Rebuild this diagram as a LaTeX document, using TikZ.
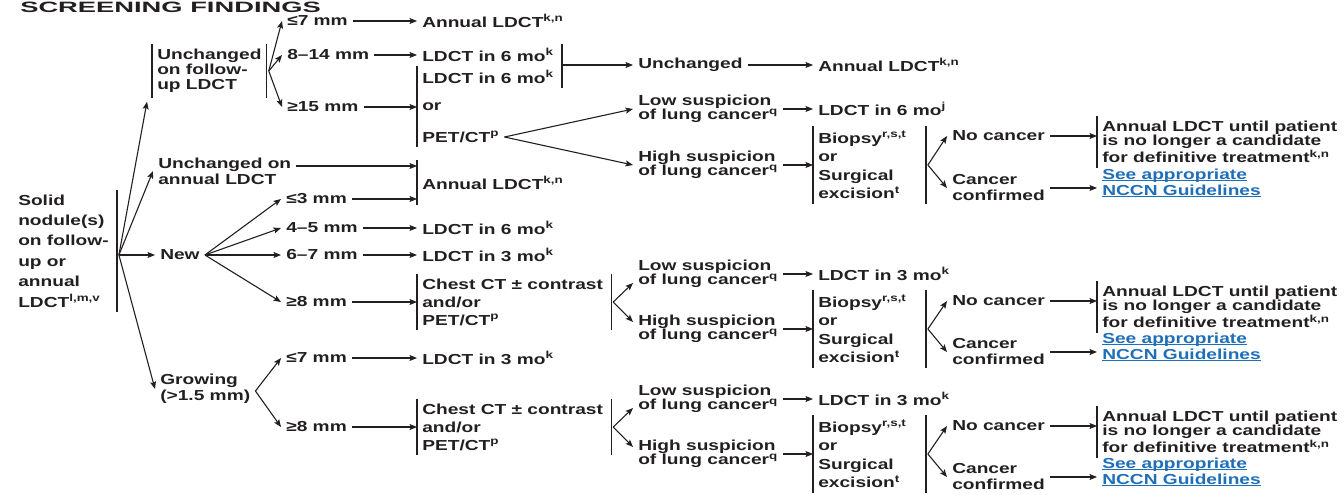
\documentclass[tikz,border=0pt]{standalone}
\usepackage{fontspec}
\setmainfont{Liberation Sans}
\usepackage{tikz}
\usetikzlibrary{positioning,arrows.meta,calc}
\definecolor{ink}     {HTML}{231F20}
\definecolor{nccnblue}{HTML}{1F6FB8}
\newcommand\ldfont[1]{\bfseries\fontsize{14.5}{#1}\selectfont}
\newcommand\fn[1]{\textsuperscript{#1}}
\newcommand\ulink[1]{\underline{\smash{#1}}}
\tikzset{
  >={Stealth[length=7.5pt,width=6pt,inset=1.5pt]},
  % --- nodes
  txt/.style  = {anchor=west, align=left, inner sep=0pt, outer xsep=4pt, outer ysep=5pt,
                 xscale=1.32, text=ink, font=\ldfont{15}},
  ttl/.style  = {txt, xscale=1.38, font=\bfseries\fontsize{15}{15}\selectfont},
  lnk/.style  = {txt, text=nccnblue, font=\ldfont{16}},
  % --- edges
  e/.style    = {->, line width=1.1pt, draw=ink},
  vbar/.style = {line width=1.4pt, draw=ink},
}
\begin{document}
\begin{tikzpicture}[x=1pt,y=-1pt,
  lh/.style={font=\ldfont{#1}}]
\useasboundingbox (0,0) rectangle (1344,495);
\node[ttl] (title) at (13,7) {SCREENING FINDINGS};
\node[txt,lh=20.4] (sn) at (13,251) {Solid\\nodule(s)\\on follow-\\up or\\annual\\LDCT\fn{l,m,v}};
% unchanged on follow-up
\node[txt] (uf) at (152,71) {Unchanged\\on follow-\\up LDCT};
\node[txt] (m7a) at (282,21) {≤7 mm};
\node[txt] (m14a) at (282,55) {8--14 mm};
\node[txt] (m15a) at (282,107) {≥15 mm};
\node[txt] (ann1) at (417,21) {Annual LDCT\fn{k,n}};
\node[txt] (ld6a) at (417,55) {LDCT in 6 mo\fn{k}};
\node[txt] (ld6b) at (417,77) {LDCT in 6 mo\fn{k}};
\node[txt] (ora) at (417,107) {or};
\node[txt] (peta) at (417,137) {PET/CT\fn{p}};
\node[txt] (unc) at (633,65) {Unchanged};
\node[txt] (ann2) at (813,65) {Annual LDCT\fn{k,n}};
\node[txt,lh=14] (lowa) at (633,109) {Low suspicion\\of lung cancer\fn{q}};
\node[txt,lh=14] (higha) at (633,165) {High suspicion\\of lung cancer\fn{q}};
\node[txt] (ld6j) at (813,109) {LDCT in 6 mo\fn{j}};
\node[txt,lh=18.5] (bxa) at (813,165) {Biopsy\fn{r,s,t}\\or\\Surgical\\excision\fn{t}};
\node[txt] (noa) at (947,136) {No cancer};
\node[txt,lh=16] (cana) at (947,188) {Cancer\\confirmed};
\node[txt,lh=14] (anua) at (1097,142) {Annual LDCT until patient\\is no longer a candidate\\for definitive treatment\fn{k,n}};
\node[lnk] (seea) at (1097,188) {\ulink{See appropriate}\\\ulink{NCCN Guidelines}};
% unchanged on annual / new
\node[txt,lh=16] (ua) at (153,171) {Unchanged on\\annual LDCT};
\node[txt] (new) at (155,255) {New};
\node[txt] (m3) at (281,199) {≤3 mm};
\node[txt] (m45) at (281,228) {4--5 mm};
\node[txt] (m67) at (281,255) {6--7 mm};
\node[txt] (m8b) at (281,302) {≥8 mm};
\node[txt] (ann3) at (417,183) {Annual LDCT\fn{k,n}};
\node[txt] (ld6c) at (417,228) {LDCT in 6 mo\fn{k}};
\node[txt] (ld3c) at (417,255) {LDCT in 3 mo\fn{k}};
\node[txt,lh=18] (ctb) at (417,302) {Chest CT ± contrast\\and/or\\PET/CT\fn{p}};
\node[txt,lh=14] (lowb) at (633,274) {Low suspicion\\of lung cancer\fn{q}};
\node[txt,lh=14] (highb) at (633,329) {High suspicion\\of lung cancer\fn{q}};
\node[txt] (ld3d) at (813,274) {LDCT in 3 mo\fn{k}};
\node[txt,lh=18.5] (bxb) at (813,329) {Biopsy\fn{r,s,t}\\or\\Surgical\\excision\fn{t}};
\node[txt] (nob) at (947,301) {No cancer};
\node[txt,lh=16] (canb) at (947,352) {Cancer\\confirmed};
\node[txt,lh=14] (anub) at (1097,307) {Annual LDCT until patient\\is no longer a candidate\\for definitive treatment\fn{k,n}};
\node[lnk] (seeb) at (1097,352) {\ulink{See appropriate}\\\ulink{NCCN Guidelines}};
% growing
\node[txt,lh=16] (gr) at (155,389) {Growing\\(>1.5 mm)};
\node[txt] (m7c) at (281,358) {≤7 mm};
\node[txt] (m8c) at (281,427) {≥8 mm};
\node[txt] (ld3e) at (417,358) {LDCT in 3 mo\fn{k}};
\node[txt,lh=18] (ctc) at (417,427) {Chest CT ± contrast\\and/or\\PET/CT\fn{p}};
\node[txt,lh=14] (lowc) at (633,399) {Low suspicion\\of lung cancer\fn{q}};
\node[txt,lh=14] (highc) at (633,454) {High suspicion\\of lung cancer\fn{q}};
\node[txt] (ld3f) at (813,399) {LDCT in 3 mo\fn{k}};
\node[txt,lh=18.5] (bxc) at (813,454) {Biopsy\fn{r,s,t}\\or\\Surgical\\excision\fn{t}};
\node[txt] (noc) at (947,426) {No cancer};
\node[txt,lh=16] (canc) at (947,477) {Cancer\\confirmed};
\node[txt,lh=14] (anuc) at (1097,432) {Annual LDCT until patient\\is no longer a candidate\\for definitive treatment\fn{k,n}};
\node[lnk] (seec) at (1097,477) {\ulink{See appropriate}\\\ulink{NCCN Guidelines}};

% solid nodule fan
\draw[vbar] ([xshift=3pt]sn.north east) -- ([xshift=3pt]sn.south east);
\coordinate (snv) at ($(sn.east |- new.west)+(5,0)$);
\draw[e] (snv) -- ($(uf.south west)+(-5,4)$); \draw[e] (snv) -- (ua.west);
\draw[e] (snv) -- (new.west); \draw[e] (snv) -- (gr.west);

% top branch
\draw[vbar] (uf.north west) -- (uf.south west); \draw[vbar] (uf.north east) -- (uf.south east);
\coordinate (ufv) at ($(uf.east)+(2,0)$);
\draw[e] (ufv) -- (m7a.west); \draw[e] (ufv) -- (m14a.west); \draw[e] (ufv) -- (m15a.west);
\draw[e] (m7a.east) -- (ann1.west); \draw[e] (m14a.east) -- (ld6a.west); \draw[e] (m15a.east) -- (ora.west);
\draw[vbar] (ld6b.north west) -- (peta.south west);
\draw[vbar] ([xshift=3pt]ld6a.north east) -- ([xshift=3pt]ld6b.south east);
\draw[e] ([xshift=3pt]unc.west -| ld6a.east) -- (unc.west); \draw[e] (unc.east) -- (ann2.west);
\draw[e] (peta.east) -- (lowa.west); \draw[e] (peta.east) -- (higha.west);
\draw[e] (lowa.east) -- (ld6j.west); \draw[e] (higha.east) -- (bxa.west);
\draw[vbar] (bxa.north west) -- (bxa.south west);
\draw[vbar] ([xshift=14pt]bxa.north east) -- ([xshift=14pt]bxa.south east);
\coordinate (bxav) at ($(bxa.east)+(16,0)$);
\draw[e] (bxav) -- (noa.west); \draw[e] (bxav) -- (cana.west);
\draw[e] (noa.east) -- (noa.east -| anua.west); \draw[vbar] (anua.north west) -- (anua.south west);
\draw[e] (cana.east) -- (seea.west);

% middle branch
\coordinate (ual) at ($(ua.east)+(0,-5)$);
\draw[e] (ual) -- (ual -| ann3.west);
\draw[vbar] ([yshift=12pt]ann3.north west) -- ([yshift=-11pt]ann3.south west);
\draw[e] (new.east) -- (m3.west); \draw[e] (new.east) -- (m45.west);
\draw[e] (new.east) -- (m67.west); \draw[e] (new.east) -- (m8b.west);
\draw[e] (m3.east) -- (m3.east -| ann3.west); \draw[e] (m45.east) -- (ld6c.west);
\draw[e] (m67.east) -- (ld3c.west); \draw[e] (m8b.east) -- (ctb.west);
\draw[vbar] (ctb.north west) -- (ctb.south west);
\draw[vbar] ([xshift=3pt]ctb.north east) -- ([xshift=3pt]ctb.south east);
\coordinate (ctbv) at ($(ctb.east)+(5,0)$);
\draw[e] (ctbv) -- ($(lowb.west)+(0,9)$); \draw[e] (ctbv) -- ($(highb.west)+(0,-7)$);
\draw[e] (lowb.east) -- (ld3d.west); \draw[e] (highb.east) -- (bxb.west);
\draw[vbar] (bxb.north west) -- (bxb.south west);
\draw[vbar] ([xshift=14pt]bxb.north east) -- ([xshift=14pt]bxb.south east);
\coordinate (bxbv) at ($(bxb.east)+(16,0)$);
\draw[e] (bxbv) -- (nob.west); \draw[e] (bxbv) -- (canb.west);
\draw[e] (nob.east) -- (nob.east -| anub.west); \draw[vbar] (anub.north west) -- (anub.south west);
\draw[e] (canb.east) -- (seeb.west);

% bottom branch
\coordinate (grv) at ($(gr.east)+(0,2)$);
\draw[e] (grv) -- (m7c.west); \draw[e] (grv) -- (m8c.west);
\draw[e] (m7c.east) -- (ld3e.west); \draw[e] (m8c.east) -- (ctc.west);
\draw[vbar] (ctc.north west) -- (ctc.south west);
\draw[vbar] ([xshift=3pt]ctc.north east) -- ([xshift=3pt]ctc.south east);
\coordinate (ctcv) at ($(ctc.east)+(5,0)$);
\draw[e] (ctcv) -- ($(lowc.west)+(0,9)$); \draw[e] (ctcv) -- ($(highc.west)+(0,-7)$);
\draw[e] (lowc.east) -- (ld3f.west); \draw[e] (highc.east) -- (bxc.west);
\draw[vbar] (bxc.north west) -- (bxc.south west);
\draw[vbar] ([xshift=14pt]bxc.north east) -- ([xshift=14pt]bxc.south east);
\coordinate (bxcv) at ($(bxc.east)+(16,0)$);
\draw[e] (bxcv) -- (noc.west); \draw[e] (bxcv) -- (canc.west);
\draw[e] (noc.east) -- (noc.east -| anuc.west); \draw[vbar] (anuc.north west) -- (anuc.south west);
\draw[e] (canc.east) -- (seec.west);
\end{tikzpicture}
\end{document}
